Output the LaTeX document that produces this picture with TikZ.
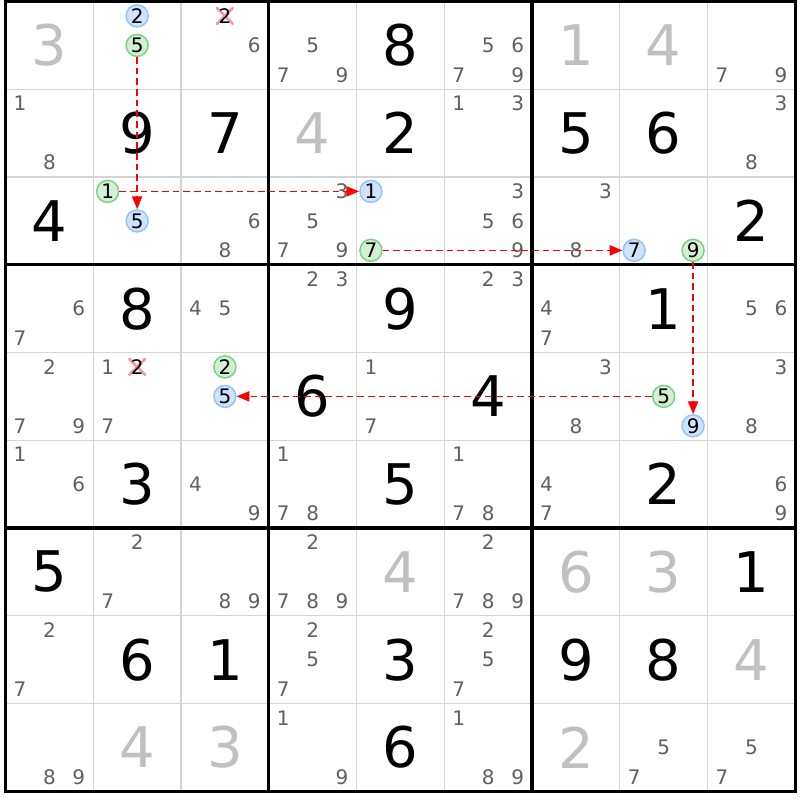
\documentclass[tikz,border=0pt]{standalone}
\usepackage{fontspec}
\setmainfont{DejaVu Sans}
\usetikzlibrary{arrows.meta}

\definecolor{placedgray}{RGB}{192,192,192}
\definecolor{pencilgray}{RGB}{96,96,96}
\definecolor{gridgray}{RGB}{212,212,212}
\definecolor{onfill}{RGB}{207,226,255}
\definecolor{ondraw}{RGB}{150,195,250}
\definecolor{offfill}{RGB}{212,240,212}
\definecolor{offdraw}{RGB}{120,210,130}
\definecolor{crosspink}{RGB}{245,150,160}

\begin{document}
\begin{tikzpicture}[x=65.81pt, y=-65.81pt,
    cellline/.style={gridgray, line width=1.1pt},
    boxline/.style={black, line width=2.3pt},
    bigdigit/.style={inner sep=0pt, font=\fontsize{42}{42}\selectfont},
    pencil/.style={inner sep=0pt, text=pencilgray, font=\fontsize{15}{15}\selectfont},
    marked/.style={pencil, text=black},
    onmark/.style={marked, circle, minimum size=16.5pt, fill=onfill, draw=ondraw, line width=1.1pt},
    offmark/.style={marked, circle, minimum size=16.5pt, fill=offfill, draw=offdraw, line width=1.1pt},
    struck/.style={marked, minimum size=13pt, path picture={
        \draw[crosspink, line width=1.9pt]
          (path picture bounding box.south west) -- (path picture bounding box.north east)
          (path picture bounding box.north west) -- (path picture bounding box.south east);}},
    chain/.style={red, line width=1.2pt, dash pattern=on 5pt off 3pt,
      -{Triangle[length=9.5pt,width=7.5pt]}},
  ]
    \newcommand{\givenbig}[3]{\node[bigdigit] (g#1#2) at (#2-0.5,#1-0.5) {#3};}
    \newcommand{\solvedbig}[3]{\node[bigdigit, text=placedgray] (g#1#2) at (#2-0.5,#1-0.5) {#3};}
    \newcommand{\pencilmark}[4][pencil]{%
      \pgfmathsetmacro{\pmx}{#3-0.5+(mod(#4-1,3)-1)*0.336}%
      \pgfmathsetmacro{\pmy}{#2-0.5+(int((#4-1)/3)-1)*0.336}%
      \node[#1] (r#2c#3n#4) at (\pmx,\pmy) {#4};}
    \newcommand{\pencils}[3]{\foreach \d in {#3} {\pencilmark{#1}{#2}{\d}}}

    \useasboundingbox (-0.0627,-0.0171) rectangle (9.054,9.0997);
    \fill[white] (-0.0627,-0.0171) rectangle (9.054,9.0997);

    % grid
    \foreach \i in {1,...,8} \draw[cellline] (\i,0) -- (\i,9) (0,\i) -- (9,\i);
    \draw[boxline] (3,0) -- (3,9) (6,0) -- (6,9) (0,3) -- (9,3) (0,6) -- (9,6);
    \draw[boxline] (0,0) rectangle (9,9);

    % givens
    \givenbig{1}{5}{8}
    \givenbig{2}{2}{9} \givenbig{2}{3}{7} \givenbig{2}{5}{2} \givenbig{2}{7}{5} \givenbig{2}{8}{6}
    \givenbig{3}{1}{4} \givenbig{3}{9}{2}
    \givenbig{4}{2}{8} \givenbig{4}{5}{9} \givenbig{4}{8}{1}
    \givenbig{5}{4}{6} \givenbig{5}{6}{4}
    \givenbig{6}{2}{3} \givenbig{6}{5}{5} \givenbig{6}{8}{2}
    \givenbig{7}{1}{5} \givenbig{7}{9}{1}
    \givenbig{8}{2}{6} \givenbig{8}{3}{1} \givenbig{8}{5}{3} \givenbig{8}{7}{9} \givenbig{8}{8}{8}
    \givenbig{9}{5}{6}

    % solved cells
    \solvedbig{1}{1}{3} \solvedbig{1}{7}{1} \solvedbig{1}{8}{4}
    \solvedbig{2}{4}{4}
    \solvedbig{7}{5}{4} \solvedbig{7}{7}{6} \solvedbig{7}{8}{3}
    \solvedbig{8}{9}{4}
    \solvedbig{9}{2}{4} \solvedbig{9}{3}{3} \solvedbig{9}{7}{2}

    % candidates
    \pencilmark[onmark]{1}{2}{2} \pencilmark[offmark]{1}{2}{5}
    \pencilmark[struck]{1}{3}{2} \pencilmark{1}{3}{6}
    \pencils{1}{4}{5,7,9} \pencils{1}{6}{5,6,7,9} \pencils{1}{9}{7,9}
    \pencils{2}{1}{1,8} \pencils{2}{6}{1,3} \pencils{2}{9}{3,8}
    \pencilmark[offmark]{3}{2}{1} \pencilmark[onmark]{3}{2}{5}
    \pencils{3}{3}{6,8} \pencils{3}{4}{3,5,7,9}
    \pencilmark[onmark]{3}{5}{1} \pencilmark[offmark]{3}{5}{7}
    \pencils{3}{6}{3,5,6,9} \pencils{3}{7}{3,8}
    \pencilmark[onmark]{3}{8}{7} \pencilmark[offmark]{3}{8}{9}
    \pencils{4}{1}{6,7} \pencils{4}{3}{4,5} \pencils{4}{4}{2,3}
    \pencils{4}{6}{2,3} \pencils{4}{7}{4,7} \pencils{4}{9}{5,6}
    \pencils{5}{1}{2,7,9}
    \pencils{5}{2}{1,7} \pencilmark[struck]{5}{2}{2}
    \pencilmark[offmark]{5}{3}{2} \pencilmark[onmark]{5}{3}{5}
    \pencils{5}{5}{1,7} \pencils{5}{7}{3,8}
    \pencilmark[offmark]{5}{8}{5} \pencilmark[onmark]{5}{8}{9}
    \pencils{5}{9}{3,8}
    \pencils{6}{1}{1,6} \pencils{6}{3}{4,9} \pencils{6}{4}{1,7,8}
    \pencils{6}{6}{1,7,8} \pencils{6}{7}{4,7} \pencils{6}{9}{6,9}
    \pencils{7}{2}{2,7} \pencils{7}{3}{8,9} \pencils{7}{4}{2,7,8,9} \pencils{7}{6}{2,7,8,9}
    \pencils{8}{1}{2,7} \pencils{8}{4}{2,5,7} \pencils{8}{6}{2,5,7}
    \pencils{9}{1}{8,9} \pencils{9}{4}{1,9} \pencils{9}{6}{1,8,9}
    \pencils{9}{8}{5,7} \pencils{9}{9}{5,7}

    % chain
    \draw[chain] (r1c2n5) -- (r3c2n5);
    \draw[chain] (r3c2n1) -- (r3c5n1);
    \draw[chain] (r3c5n7) -- (r3c8n7);
    \draw[chain] (r3c8n9) -- (r5c8n9);
    \draw[chain] (r5c8n5) -- (r5c3n5);
\end{tikzpicture}
\end{document}
